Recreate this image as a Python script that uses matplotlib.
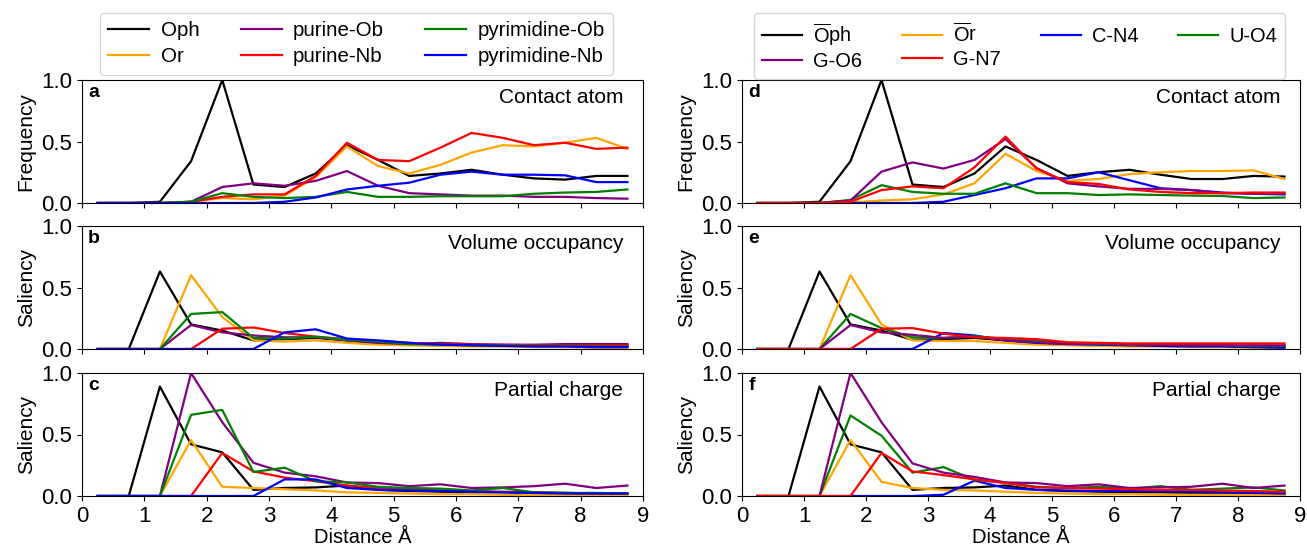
import numpy as np
import matplotlib
matplotlib.use("Agg")
import matplotlib.pyplot as plt

plt.rcParams['font.family'] = ['Liberation Sans', 'DejaVu Sans']
plt.rcParams['mathtext.fontset'] = 'custom'
plt.rcParams['mathtext.rm'] = 'Liberation Sans'

dist = [0.25, 0.75, 1.25, 1.75, 2.25, 2.75, 3.25, 3.75, 4.25,
        4.75, 5.25, 5.75, 6.25, 6.75, 7.25, 7.75, 8.25, 8.75]

# ---- left column: a (contact atom), b (volume occupancy), c (partial charge)
oph_a = [0, 0, 0.01, 0.34, 1.0, 0.15, 0.13, 0.24, 0.47, 0.35, 0.22, 0.24, 0.27, 0.23, 0.20, 0.19, 0.22, 0.22]
or_a = [0, 0, 0, 0.01, 0.04, 0.03, 0.06, 0.21, 0.46, 0.30, 0.24, 0.31, 0.41, 0.47, 0.46, 0.49, 0.53, 0.44]
purOb_a = [0, 0, 0, 0.01, 0.13, 0.16, 0.14, 0.18, 0.26, 0.14, 0.08, 0.07, 0.06, 0.06, 0.05, 0.05, 0.04, 0.035]
purNb_a = [0, 0, 0, 0.01, 0.05, 0.07, 0.07, 0.22, 0.49, 0.35, 0.34, 0.45, 0.57, 0.53, 0.47, 0.49, 0.44, 0.45]
pyrOb_a = [0, 0, 0, 0.01, 0.08, 0.05, 0.04, 0.05, 0.09, 0.05, 0.05, 0.055, 0.055, 0.055, 0.075, 0.085, 0.09, 0.11]
pyrNb_a = [0, 0, 0, 0, 0, 0, 0.01, 0.045, 0.11, 0.14, 0.165, 0.23, 0.255, 0.23, 0.23, 0.225, 0.17, 0.17]

oph_b = [0, 0, 0.63, 0.20, 0.15, 0.07, 0.08, 0.09, 0.07, 0.05, 0.035, 0.03, 0.03, 0.03, 0.025, 0.025, 0.02, 0.02]
or_b = [0, 0, 0, 0.60, 0.26, 0.07, 0.06, 0.07, 0.05, 0.035, 0.03, 0.025, 0.02, 0.02, 0.015, 0.015, 0.01, 0.01]
purOb_b = [0, 0, 0, 0.195, 0.135, 0.11, 0.095, 0.095, 0.07, 0.05, 0.04, 0.05, 0.04, 0.035, 0.035, 0.04, 0.04, 0.04]
purNb_b = [0, 0, 0, 0, 0.165, 0.175, 0.13, 0.10, 0.08, 0.065, 0.05, 0.04, 0.035, 0.035, 0.03, 0.03, 0.03, 0.03]
pyrOb_b = [0, 0, 0, 0.285, 0.30, 0.09, 0.085, 0.10, 0.075, 0.06, 0.04, 0.035, 0.03, 0.03, 0.025, 0.025, 0.02, 0.02]
pyrNb_b = [0, 0, 0, 0, 0, 0, 0.135, 0.16, 0.085, 0.07, 0.05, 0.035, 0.03, 0.025, 0.02, 0.02, 0.015, 0.015]

oph_c = [0, 0, 0.89, 0.42, 0.355, 0.05, 0.065, 0.07, 0.085, 0.05, 0.04, 0.035, 0.03, 0.03, 0.025, 0.025, 0.02, 0.02]
or_c = [0, 0, 0, 0.455, 0.075, 0.065, 0.055, 0.045, 0.03, 0.025, 0.02, 0.015, 0.015, 0.01, 0.01, 0.01, 0.01, 0.01]
purOb_c = [0, 0, 0, 1.0, 0.60, 0.27, 0.19, 0.16, 0.11, 0.105, 0.08, 0.095, 0.065, 0.07, 0.08, 0.10, 0.065, 0.085]
purNb_c = [0, 0, 0, 0, 0.35, 0.20, 0.15, 0.12, 0.085, 0.065, 0.055, 0.045, 0.04, 0.035, 0.03, 0.025, 0.02, 0.02]
pyrOb_c = [0, 0, 0, 0.66, 0.70, 0.195, 0.23, 0.12, 0.11, 0.075, 0.065, 0.06, 0.045, 0.065, 0.03, 0.025, 0.025, 0.02]
pyrNb_c = [0, 0, 0, 0, 0, 0, 0.135, 0.135, 0.065, 0.05, 0.045, 0.04, 0.035, 0.03, 0.025, 0.02, 0.02, 0.02]

# ---- right column: d, e, f
oph_d = [0, 0, 0.01, 0.34, 1.0, 0.15, 0.13, 0.24, 0.46, 0.35, 0.22, 0.25, 0.27, 0.23, 0.195, 0.195, 0.22, 0.215]
or_d = [0, 0, 0, 0.005, 0.02, 0.03, 0.07, 0.16, 0.40, 0.26, 0.18, 0.195, 0.235, 0.25, 0.26, 0.26, 0.265, 0.195]
cN4_d = [0, 0, 0, 0, 0, 0, 0.01, 0.065, 0.12, 0.20, 0.20, 0.25, 0.185, 0.12, 0.105, 0.085, 0.075, 0.07]
uO4_d = [0, 0, 0, 0.025, 0.145, 0.09, 0.075, 0.075, 0.16, 0.08, 0.08, 0.065, 0.07, 0.065, 0.06, 0.057, 0.04, 0.045]
gO6_d = [0, 0, 0, 0.02, 0.255, 0.33, 0.28, 0.35, 0.52, 0.285, 0.16, 0.135, 0.115, 0.115, 0.105, 0.08, 0.075, 0.075]
gN7_d = [0, 0, 0, 0.01, 0.105, 0.135, 0.12, 0.29, 0.54, 0.28, 0.17, 0.155, 0.11, 0.09, 0.08, 0.08, 0.085, 0.085]

oph_e = [0, 0, 0.63, 0.20, 0.15, 0.075, 0.08, 0.09, 0.07, 0.05, 0.035, 0.03, 0.03, 0.03, 0.025, 0.025, 0.02, 0.02]
or_e = [0, 0, 0, 0.60, 0.20, 0.07, 0.065, 0.065, 0.05, 0.035, 0.03, 0.025, 0.02, 0.02, 0.015, 0.015, 0.01, 0.01]
cN4_e = [0, 0, 0, 0, 0, 0, 0.13, 0.11, 0.07, 0.05, 0.04, 0.035, 0.03, 0.025, 0.02, 0.02, 0.015, 0.01]
uO4_e = [0, 0, 0, 0.285, 0.17, 0.095, 0.09, 0.105, 0.08, 0.065, 0.045, 0.04, 0.035, 0.035, 0.03, 0.03, 0.025, 0.025]
gO6_e = [0, 0, 0, 0.195, 0.135, 0.115, 0.09, 0.10, 0.07, 0.055, 0.04, 0.045, 0.035, 0.035, 0.03, 0.03, 0.03, 0.03]
gN7_e = [0, 0, 0, 0, 0.165, 0.17, 0.125, 0.095, 0.09, 0.08, 0.055, 0.05, 0.045, 0.045, 0.045, 0.045, 0.045, 0.045]

oph_f = [0, 0, 0.89, 0.42, 0.355, 0.05, 0.065, 0.07, 0.085, 0.05, 0.04, 0.035, 0.03, 0.03, 0.025, 0.025, 0.02, 0.02]
or_f = [0, 0, 0, 0.455, 0.115, 0.065, 0.05, 0.045, 0.035, 0.025, 0.02, 0.015, 0.015, 0.01, 0.01, 0.01, 0.01, 0.01]
cN4_f = [0, 0, 0, 0, 0, 0, 0.01, 0.125, 0.065, 0.05, 0.045, 0.04, 0.04, 0.04, 0.035, 0.03, 0.025, 0.02]
uO4_f = [0, 0, 0, 0.655, 0.49, 0.19, 0.235, 0.13, 0.11, 0.075, 0.065, 0.075, 0.06, 0.08, 0.05, 0.06, 0.07, 0.045]
gO6_f = [0, 0, 0, 1.0, 0.60, 0.265, 0.19, 0.155, 0.11, 0.105, 0.08, 0.095, 0.065, 0.07, 0.075, 0.10, 0.065, 0.085]
gN7_f = [0, 0, 0, 0, 0.35, 0.20, 0.17, 0.135, 0.105, 0.07, 0.065, 0.06, 0.055, 0.05, 0.05, 0.045, 0.04, 0.035]

left_labels = ['Oph', 'Or', 'purine-Ob', 'purine-Nb', 'pyrimidine-Ob', 'pyrimidine-Nb']
left_colors = ['black', 'orange', 'purple', 'red', 'green', 'blue']
right_labels = [r'$\overline{\mathrm{O}}$ph', r'$\overline{\mathrm{O}}$r', 'C-N4', 'U-O4', 'G-O6', 'G-N7']
right_colors = ['black', 'orange', 'blue', 'green', 'purple', 'red']

left_data = [[oph_a, or_a, purOb_a, purNb_a, pyrOb_a, pyrNb_a],
             [oph_b, or_b, purOb_b, purNb_b, pyrOb_b, pyrNb_b],
             [oph_c, or_c, purOb_c, purNb_c, pyrOb_c, pyrNb_c]]
right_data = [[oph_d, or_d, cN4_d, uO4_d, gO6_d, gN7_d],
              [oph_e, or_e, cN4_e, uO4_e, gO6_e, gN7_e],
              [oph_f, or_f, cN4_f, uO4_f, gO6_f, gN7_f]]

titles = ['Contact atom', 'Volume occupancy', 'Partial charge']
ylabels = ['Frequency', 'Saliency', 'Saliency']

fig = plt.figure(figsize=(13.07, 5.51), dpi=100)
W, H = 1307, 551
rows_top = [80, 226, 373]
ax_h = 123


def make_col(x0, x1, data, labels, colors, letters):
    axes = []
    for r in range(3):
        ax = fig.add_axes([x0 / W, 1 - (rows_top[r] + ax_h) / H, (x1 - x0) / W, ax_h / H])
        lines = []
        for ser, lab, col in zip(data[r], labels, colors):
            ln, = ax.plot(dist, ser, color=col, lw=1.6, label=lab)
            lines.append(ln)
        ax.set_xlim(0, 9)
        ax.set_ylim(0, 1)
        ax.set_xticks(range(10))
        ax.set_yticks([0, 0.5, 1.0])
        ax.tick_params(labelsize=16)
        if r < 2:
            ax.set_xticklabels([])
        else:
            ax.set_xlabel('Distance Å', fontsize=14.5, labelpad=1)
        ax.set_ylabel(ylabels[r], fontsize=15)
        ax.text(0.011, 0.965, letters[r], transform=ax.transAxes, fontsize=14,
                fontweight='bold', ha='left', va='top')
        ax.text(0.965, 0.935, titles[r], transform=ax.transAxes, fontsize=15,
                ha='right', va='top')
        axes.append((ax, lines))
    return axes


left = make_col(82, 643, left_data, left_labels, left_colors, 'abc')
right = make_col(742, 1300, right_data, right_labels, right_colors, 'def')

fig.legend(handles=left[0][1], ncol=3, fontsize=14.8, loc='upper left',
           bbox_to_anchor=(100 / W, 1 - 13 / H), borderaxespad=0,
           handletextpad=0.55, columnspacing=2.0, labelspacing=0.35)
rl = right[0][1]
fig.legend(handles=[rl[0], rl[4], rl[1], rl[5], rl[2], rl[3]], ncol=4, fontsize=14.4,
           loc='upper left', bbox_to_anchor=(754 / W, 1 - 13 / H), borderaxespad=0,
           handletextpad=0.55, columnspacing=2.0, labelspacing=0.2)

fig.savefig('out.png', dpi=100)
